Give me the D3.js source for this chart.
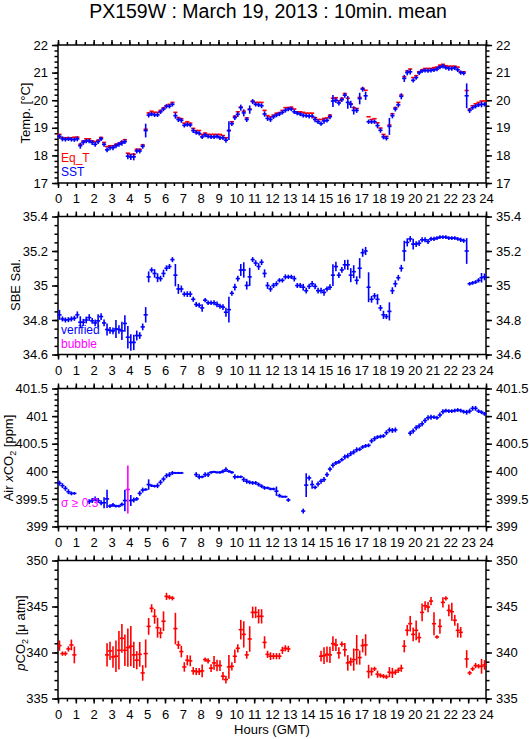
<!DOCTYPE html>
<html><head><meta charset="utf-8">
<script src="https://cdn.jsdelivr.net/npm/d3@7"></script>
<style>
body{margin:0;background:#fff}
svg{display:block}
text{font-family:"Liberation Sans",Arial,Helvetica,sans-serif}
</style>
</head><body>
<svg id="c" width="529" height="739"></svg>
<script>
// ---------------- DATA (10-minute means, 144 slots per day) ----------------
const titleText = "PX159W : March 19, 2013 : 10min. mean";
const hourTicks = ["0","1","2","3","4","5","6","7","8","9","10","11","12","13","14","15","16","17","18","19","20","21","22","23","24"];
const slotMinutes = 10;

const sstVals = [
18.69,18.6,18.58,18.6,18.58,18.57, 18.6,18.35,18.47,18.52,18.52,18.47,
18.4,18.5,18.6,18.4,18.2,18.28, 18.28,18.35,18.4,18.45,18.5,17.97,
17.94,17.95,18.16,18.16,18.33,18.9, 19.46,19.5,19.47,19.47,19.58,19.68,
19.78,19.78,19.85,19.44,19.3,19.27, 19.09,19.12,19.1,18.9,18.83,18.8,
18.67,18.74,18.69,18.67,18.67,18.69, 18.64,18.64,18.55,18.9,19.15,19.37,
19.49,19.73,19.54,19.3,19.66,19.95, 19.85,19.83,19.8,19.5,19.34,19.3,
19.4,19.46,19.5,19.56,19.63,19.68, 19.68,19.58,19.53,19.5,19.45,19.44,
19.42,19.42,19.3,19.22,19.15,19.25, 19.27,19.4,19.97,20.0,19.9,20.02,
20.18,19.92,19.85,19.63,19.63,20.06, 20.4,20.16,19.22,19.22,19.22,19.08,
18.91,18.67,18.62,19.05,19.44,19.68, 19.83,20.14,20.79,21.0,21.03,20.72,
20.82,20.99,21.06,21.08,21.07,21.08, 21.1,21.13,21.2,21.23,21.18,21.15,
21.15,21.17,21.1,21.0,20.98,20.16, 19.63,19.73,19.78,19.83,19.85,19.85];
const sstSd = [
.06,.06,.05,.05,.05,.05, .06,.08,.06,.05,.05,.06,
.06,.06,.05,.06,.06,.06, .06,.06,.06,.07,.06,.08,
.08,.1,.06,.06,.06,.22, .06,.05,.05,.05,.05,.05,
.05,.05,.05,.08,.06,.06, .05,.05,.05,.06,.05,.05,
.05,.05,.05,.05,.05,.05, .05,.05,.06,.31,.06,.06,
.07,.08,.1,.06,.12,.06, .05,.05,.06,.07,.06,.06,
.05,.05,.05,.05,.05,.05, .05,.05,.05,.05,.05,.05,
.05,.05,.07,.05,.05,.07, .05,.06,.19,.07,.06,.06,
.06,.2,.1,.12,.06,.18, .06,.12,.05,.05,.05,.07,
.06,.06,.05,.28,.07,.06, .06,.08,.1,.07,.07,.05,
.05,.05,.05,.05,.05,.05, .05,.05,.05,.05,.05,.05,
.05,.05,.05,.05,.05,.42, .06,.05,.05,.05,.08,.05];
const eqtVals = [
18.76,18.64,18.64,18.64,18.64,18.66, 18.66,18.4,18.52,18.6,18.6,18.53,
18.5,18.55,18.65,18.47,18.32,18.35, 18.35,18.4,18.44,18.5,18.57,18.08,
18.04,18.04,18.22,18.22,18.38,18.95, 19.54,19.6,19.56,19.56,19.63,19.72,
19.8,19.85,19.92,19.56,19.37,19.33, 19.17,19.22,19.17,18.98,18.9,18.9,
18.76,18.81,18.76,18.76,18.76,18.76, 18.76,18.72,18.64,18.9,19.22,19.42,
19.58,19.75,19.6,19.36,19.68,19.97, 19.92,19.92,19.92,19.63,19.44,19.4,
19.46,19.53,19.55,19.63,19.73,19.73, 19.75,19.68,19.58,19.58,19.56,19.53,
19.53,19.53,19.37,19.3,19.3,19.34, 19.36,19.46,20.07,20.09,19.98,20.07,
20.24,20.07,19.87,19.73,19.7,20.1, 20.43,20.36,19.4,19.3,19.33,19.18,
18.99,18.76,18.69,19.1,19.51,19.73, 19.92,20.19,20.85,21.06,21.13,20.82,
20.89,21.03,21.1,21.15,21.15,21.15, 21.18,21.2,21.27,21.3,21.25,21.23,
21.23,21.23,21.2,21.03,21.03,20.35, 19.68,19.8,19.87,19.92,19.97,19.97];

const salVals = [
34.83,34.806,34.8,34.802,34.806,34.81, 34.83,34.787,34.787,34.8,34.814,34.795,
34.783,34.795,34.82,34.783,34.745,34.74, 34.737,34.748,34.745,34.737,34.78,34.7,
34.67,34.67,34.71,34.71,34.76,34.83, 35.05,35.09,35.07,35.045,35.04,35.07,
35.1,35.11,35.15,35.06,34.98,34.98, 34.95,34.95,34.95,34.92,34.89,34.885,
34.87,34.915,34.9,34.9,34.9,34.89, 34.88,34.875,34.845,34.86,34.955,34.99,
35.04,35.09,35.09,35.0,35.05,35.15, 35.13,35.11,35.135,35.07,35.0,34.98,
35.0,35.01,35.03,35.03,35.05,35.05, 35.05,35.04,35.0,35.0,34.99,34.97,
34.995,35.01,34.995,34.97,34.97,34.96, 34.98,34.99,35.06,35.11,35.06,35.09,
35.12,35.12,35.06,35.08,35.03,35.1, 35.19,35.2,34.99,34.92,34.94,34.92,
34.87,34.83,34.82,34.85,34.97,35.01, 35.045,35.1,35.2,35.25,35.27,35.24,
35.24,35.245,35.265,35.265,35.255,35.27, 35.27,35.275,35.28,35.28,35.28,35.275,
35.275,35.275,35.27,35.265,35.26,35.2, 35.01,35.015,35.02,35.03,35.045,35.05];
const salSd = [
.024,.01,.01,.01,.01,.01, .015,.03,.015,.015,.015,.012,
.015,.033,.015,.015,.03,.015, .015,.048,.02,.048,.043,.06,
.043,.04,.024,.015,.015,.04, .027,.01,.02,.021,.012,.017,
.012,.01,.01,.06,.024,.015, .01,.012,.012,.01,.01,.01,
.017,.008,.008,.008,.01,.012, .01,.012,.021,.07,.01,.015,
.012,.03,.04,.019,.048,.01, .012,.015,.012,.019,.015,.012,
.01,.01,.008,.008,.01,.008, .008,.012,.01,.01,.015,.012,
.01,.012,.012,.012,.012,.015, .01,.012,.058,.023,.012,.012,
.023,.025,.036,.033,.019,.054, .019,.019,.082,.015,.012,.025,
.012,.019,.01,.048,.015,.015, .012,.015,.055,.019,.012,.027,
.012,.012,.01,.01,.01,.008, .008,.006,.006,.006,.006,.006,
.006,.006,.006,.008,.008,.07, .006,.006,.006,.008,.023,.015];

const airVals = [
399.785,399.74,399.69,399.63,399.6,399.6, null,null,null,null,399.45,399.47,
399.5,399.47,399.43,399.43,399.5,399.37, 399.39,399.37,399.37,399.4,399.47,399.67,
399.47,399.48,399.5,399.6,399.66,399.67, 399.76,399.74,399.73,399.74,399.8,399.86,
399.92,399.94,399.97,399.97,399.97,399.97, null,null,null,null,399.94,399.9,
399.9,399.94,399.94,399.98,399.99,399.98, 399.98,400.0,400.03,400.0,399.98,399.9,
399.9,399.9,399.85,399.82,399.8,399.79, 399.79,399.76,399.73,399.7,399.7,399.68,
399.68,399.64,399.56,399.54,399.54,399.48, null,null,null,null,399.28,399.75,
399.88,399.76,399.71,399.77,399.82,399.85, 399.94,400.04,400.11,400.15,400.17,400.21,
400.26,400.28,400.32,400.35,400.39,400.4, 400.44,400.46,400.47,400.55,400.59,400.62,
400.63,400.64,400.7,400.75,400.74,400.75, null,null,null,null,400.69,400.73,
400.79,400.82,400.86,400.92,400.97,400.98, 400.98,400.97,401.02,401.08,401.1,401.09,
401.09,401.1,401.11,401.1,401.08,401.07, 401.09,401.14,401.14,401.09,401.07,401.04];
const airSd = [
.03,.03,.03,.03,.02,.01, 0,0,0,0,.03,.03,
.03,.03,.03,.085,.15,.02, .02,.01,.01,.02,.18,.42,
.085,.03,.02,.03,.03,.01, .08,.01,.01,.03,.03,.03,
.03,.03,.02,.005,.005,.005, 0,0,0,0,.03,.03,
.01,.03,.03,.01,.005,.005, .01,.02,.03,.01,.01,.03,
.01,.01,.03,.03,.02,.02, .02,.02,.02,.02,.01,.01,
.01,.07,.02,.005,.005,.02, 0,0,0,0,.03,.2,
.03,.06,.02,.03,.03,.03, .03,.03,.03,.02,.02,.02,
.03,.03,.03,.03,.03,.02, .02,.02,.02,.03,.03,.02,
.02,.02,.03,.03,.03,.03, 0,0,0,0,.03,.03,
.03,.03,.03,.03,.03,.03, .02,.02,.03,.03,.02,.02,
.02,.02,.02,.02,.02,.03, .03,.03,.03,.02,.02,.02];
const airSigmaLimit = 0.3;

const pco2Vals = [
340.75,339.88,339.88,340.39,340.82,339.74, null,null,null,null,null,null,
null,null,null,null,339.74,340.17, 339.52,339.6,340.24,341.54,340.24,340.53,
340.68,339.74,339.16,339.8,337.78,339.88, 342.84,344.8,343.93,342.7,342.12,343.4,
346.1,346.0,345.9,342.6,340.82,340.1, 338.43,339.16,339.09,338.0,337.93,337.93,
338.0,339.23,339.09,338.3,338.87,338.58, 338.58,337.42,337.06,338.43,338.5,339.59,
340.46,342.48,341.97,339.74,341.47,344.36, 344.36,343.93,343.93,341.1,339.8,339.6,
339.6,339.6,339.6,340.24,340.46,340.39, null,null,null,null,null,null,
null,null,null,null,339.6,339.66, 339.8,339.74,340.96,340.82,339.95,340.9,
340.3,338.87,339.0,339.23,340.3,339.45, 340.75,340.82,337.93,337.93,338.22,337.64,
337.5,337.42,337.35,337.86,337.78,337.86, 338.07,338.29,340.68,342.41,343.13,341.97,
342.41,341.62,344.36,345.08,344.94,345.59, 343.13,341.69,342.84,345.45,345.88,344.58,
344.43,343.5,342.41,342.19,null,339.3, 337.78,338.22,338.58,338.5,338.5,338.65];
const pco2Sd = [
.47,.15,.15,.2,.5,.83, 0,0,0,0,0,0,
0,0,0,0,1.17,.9, 1.08,1.63,2.0,1.48,1.63,2.0,
2.1,1.34,.9,1.26,.76,1.45, .83,.36,.72,1.0,.5,.98,
.3,.15,.15,1.63,.36,.54, .43,.47,.5,.33,.3,.3,
.6,.15,.2,.33,.65,.54, .5,.36,.33,1.2,.36,.65,
.36,.98,1.34,.33,1.3,.54, .54,.69,.69,.58,.3,.33,
.25,.25,.25,.3,.25,.25, 0,0,0,0,0,0,
0,0,0,0,.5,.83, .76,.8,.72,.58,.54,.2,
.65,.76,.36,1.12,1.52,.69, .65,1.08,.65,.36,.15,.3,
.15,.15,.15,.47,.47,.2, .2,.3,.58,.5,.76,.65,
.98,.47,.87,.4,.47,.36, 1.16,.1,.72,.47,.15,.54,
.9,.5,.69,.5,0,.87, .15,.15,.2,.15,.72,.43];

// axis tick values / labels
const tempTicks = [17,18,19,20,21,22];
const salTicks = [34.6,34.8,35,35.2,35.4];
const airTicks = [399,399.5,400,400.5,401,401.5];
const pco2Ticks = [335,340,345,350];

// ---------------- DRAWING ----------------
const svg = d3.select("#c");
const W = 529;
const x = d3.scaleLinear().domain([0,24]).range([58,486]);
const BLUE = "#0000ff", RED = "#ff0000", MAG = "#ff00ff";
const FS = 13, LFS = 12;

svg.append("rect").attr("width",W).attr("height",739).attr("fill","#fff");

svg.append("text").attr("x",268).attr("y",18).attr("text-anchor","middle")
  .attr("font-size",19.5).text(titleText);

function makePanel(top, domain, ticks, minorStep, labelFmt){
  const bottom = top + 138;
  const y = d3.scaleLinear().domain(domain).range([bottom, top]);
  const g = svg.append("g");
  const minor = d3.range(domain[0], domain[1] + minorStep/2, minorStep);
  const xMinor = d3.range(0, 24.01, 0.5);
  const hourVals = hourTicks.map(Number);
  g.append("g").attr("transform",`translate(0,${top})`)
    .call(d3.axisTop(x).tickValues(xMinor).tickSize(3).tickFormat(""));
  g.append("g").attr("transform",`translate(0,${top})`)
    .call(d3.axisTop(x).tickValues(hourVals).tickSize(5).tickFormat(""));
  g.append("g").attr("transform",`translate(0,${bottom})`)
    .call(d3.axisBottom(x).tickValues(xMinor).tickSize(3).tickFormat(""));
  g.append("g").attr("transform",`translate(0,${bottom})`)
    .call(d3.axisBottom(x).tickValues(hourVals).tickSize(5).tickPadding(6).tickFormat((d,i)=>hourTicks[i]));
  g.append("g").attr("transform",`translate(58,0)`)
    .call(d3.axisLeft(y).tickValues(minor).tickSize(3.5).tickFormat(""));
  g.append("g").attr("transform",`translate(58,0)`)
    .call(d3.axisLeft(y).tickValues(ticks).tickSize(6).tickPadding(4).tickFormat(labelFmt));
  g.append("g").attr("transform",`translate(486,0)`)
    .call(d3.axisRight(y).tickValues(minor).tickSize(3.5).tickFormat(""));
  g.append("g").attr("transform",`translate(486,0)`)
    .call(d3.axisRight(y).tickValues(ticks).tickSize(6).tickPadding(4).tickFormat(labelFmt));
  g.selectAll(".domain").remove();
  g.selectAll(".tick line").attr("stroke","#000").attr("stroke-width",1.5);
  g.selectAll(".tick text").attr("font-size",FS).attr("fill","#000")
    .attr("font-family",'"Liberation Sans",Arial,sans-serif');
  g.append("rect").attr("x",58).attr("y",top).attr("width",486-58).attr("height",138)
    .attr("fill","none").attr("stroke","#000").attr("stroke-width",1.5);
  const data = svg.append("g");
  return {y, g: data, top, bottom};
}

function pts(vals, sds){
  return vals.map((v,i)=>({t:(i + 0.5)*slotMinutes/60, v, sd: sds ? sds[i] : 0}))
             .filter(d=>d.v!==null);
}

function drawSeries(p, data, color, vertical){
  const half = slotMinutes/120;
  const col = d=>typeof color==="function"?color(d):color;
  const gg = p.g.append("g").attr("stroke-width",1.6).attr("fill","none");
  gg.selectAll("line.h").data(data).join("line").attr("class","h")
    .attr("x1",d=>x(d.t-half)-0.6).attr("x2",d=>x(d.t+half)+0.6)
    .attr("y1",d=>p.y(d.v)).attr("y2",d=>p.y(d.v))
    .attr("stroke",col);
  if(vertical){
    gg.selectAll("line.v").data(data).join("line").attr("class","v")
      .attr("x1",d=>x(d.t)).attr("x2",d=>x(d.t))
      .attr("y1",d=>p.y(d.v - d.sd)+0.8).attr("y2",d=>p.y(d.v + d.sd)-0.8)
      .attr("stroke",col);
  }
}

const fmt = d=>String(d);

const p1 = makePanel(45, [17,22], tempTicks, 0.2, fmt);
drawSeries(p1, pts(eqtVals, null), RED, false);
drawSeries(p1, pts(sstVals, sstSd), BLUE, true);

const p2 = makePanel(216.5, [34.6,35.4], salTicks, 0.05, fmt);
drawSeries(p2, pts(salVals, salSd), BLUE, true);

const p3 = makePanel(388.5, [399,401.5], airTicks, 0.1, fmt);
drawSeries(p3, pts(airVals, airSd), d=>d.sd>=airSigmaLimit?MAG:BLUE, true);

const p4 = makePanel(560.5, [335,350], pco2Ticks, 1, fmt);
drawSeries(p4, pts(pco2Vals, pco2Sd), RED, true);

function legend(xp, yp, txt, color){
  svg.append("text").attr("x",xp).attr("y",yp).attr("font-size",LFS).attr("fill",color).text(txt);
}
legend(61,162,"Eq_T",RED);
legend(61,176,"SST",BLUE);
legend(61,334,"verified",BLUE);
legend(61,348,"bubble",MAG);
legend(61,507,"\u03c3 \u2265 0.3",MAG);

function ytitle(cx, cy, build){
  const t = svg.append("text").attr("transform",`translate(${cx},${cy}) rotate(-90)`)
    .attr("text-anchor","middle").attr("font-size",FS).attr("fill","#000");
  build(t);
}
ytitle(30, 113, t=>t.text("Temp. [\u00b0C]"));
ytitle(20, 285, t=>t.text("SBE Sal."));
ytitle(13, 458, t=>{
  t.append("tspan").text("Air ");
  t.append("tspan").attr("font-style","italic").text("x");
  t.append("tspan").text("CO");
  t.append("tspan").attr("font-size",9).attr("dy",3).text("2");
  t.append("tspan").attr("dy",-3).text(" [ppm]");
});
ytitle(25, 633, t=>{
  t.append("tspan").attr("font-style","italic").text("p");
  t.append("tspan").text("CO");
  t.append("tspan").attr("font-size",9).attr("dy",3).text("2");
  t.append("tspan").attr("dy",-3).text(" [\u03bc atm]");
});

svg.append("text").attr("x",272).attr("y",734).attr("text-anchor","middle")
  .attr("font-size",FS).text("Hours (GMT)");
</script>
</body></html>
